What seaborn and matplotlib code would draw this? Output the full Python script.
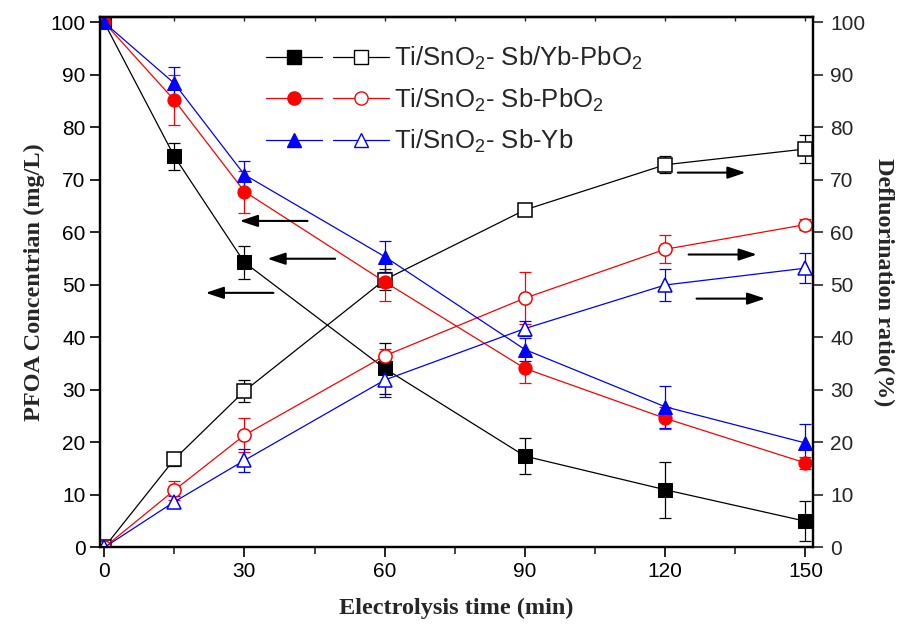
import numpy as np
import pandas as pd
import matplotlib
matplotlib.use("Agg")
import matplotlib.pyplot as plt
import seaborn as sns
from matplotlib.lines import Line2D
from matplotlib.legend_handler import HandlerTuple
from matplotlib.ticker import MultipleLocator

# ---------------- data ----------------
time = [0, 15, 30, 60, 90, 120, 150]

# PFOA concentration (mg/L), left axis
conc_ybpbo2 = [100, 74.5, 54.3, 34.1, 17.4, 11.0, 5.0]
conc_ybpbo2_err = [0, 2.6, 3.2, 4.8, 3.4, 5.3, 3.8]
conc_pbo2 = [100, 85.2, 67.8, 50.6, 34.1, 24.6, 16.1]
conc_pbo2_err = [0, 4.7, 4.0, 3.6, 2.8, 2.1, 1.2]
conc_yb = [100, 88.4, 71.0, 55.4, 37.7, 26.8, 19.9]
conc_yb_err = [0, 3.2, 2.7, 3.0, 2.2, 4.0, 3.7]

# Defluorination ratio (%), right axis
defl_ybpbo2 = [0, 16.8, 29.8, 51.0, 64.3, 72.9, 75.9]
defl_ybpbo2_err = [0, 1.2, 2.1, 2.0, 0.8, 1.6, 2.7]
defl_pbo2 = [0, 10.9, 21.4, 36.5, 47.5, 56.8, 61.5]
defl_pbo2_err = [0, 1.8, 3.3, 1.3, 5.0, 2.7, 1.0]
defl_yb = [0, 8.7, 16.6, 31.9, 41.7, 50.0, 53.2]
defl_yb_err = [0, 1.2, 2.2, 3.2, 1.5, 3.0, 2.8]

labels = ["Ti/SnO$_2$- Sb/Yb-PbO$_2$", "Ti/SnO$_2$- Sb-PbO$_2$", "Ti/SnO$_2$- Sb-Yb"]
colors = ["black", "red", "blue"]
markers = ["s", "o", "^"]

x_ticks = [0, 30, 60, 90, 120, 150]
y_ticks = list(range(0, 101, 10))

# ---------------- style ----------------
sns.set_theme(style="ticks")
plt.rcParams["font.family"] = ["Liberation Sans", "DejaVu Sans"]
plt.rcParams["mathtext.fontset"] = "custom"
plt.rcParams["mathtext.rm"] = "Liberation Sans"
plt.rcParams["mathtext.it"] = "Liberation Sans:italic"
plt.rcParams["mathtext.bf"] = "Liberation Sans:bold"

fig = plt.figure(figsize=(9.03, 6.27), dpi=100)
ax = fig.add_axes([0.1107, 0.1268, 0.7896, 0.8466])
ax2 = ax.twinx()

conc = [conc_ybpbo2, conc_pbo2, conc_yb]
conc_err = [conc_ybpbo2_err, conc_pbo2_err, conc_yb_err]
defl = [defl_ybpbo2, defl_pbo2, defl_yb]
defl_err = [defl_ybpbo2_err, defl_pbo2_err, defl_yb_err]

ms = 9.5
lw = 0.9
for i in range(3):
    df_c = pd.DataFrame({"time": time, "val": conc[i]})
    df_d = pd.DataFrame({"time": time, "val": defl[i]})
    ax.errorbar(time, conc[i], yerr=conc_err[i], fmt="none", ecolor=colors[i],
                elinewidth=0.9, capsize=4.5, capthick=0.9, zorder=2)
    ax.errorbar(time, defl[i], yerr=defl_err[i], fmt="none", ecolor=colors[i],
                elinewidth=0.9, capsize=4.5, capthick=0.9, zorder=2)
    sns.lineplot(data=df_c, x="time", y="val", ax=ax, color=colors[i], marker=markers[i],
                 markersize=ms, markeredgecolor=colors[i], markerfacecolor=colors[i],
                 linewidth=lw, zorder=3, legend=False)
    sns.lineplot(data=df_d, x="time", y="val", ax=ax, color=colors[i], marker=markers[i],
                 markersize=ms, markeredgecolor=colors[i], markerfacecolor="white",
                 markeredgewidth=1.1, linewidth=lw, zorder=3, legend=False)

ax.set_xlim(-0.9, 151.6)
ax.set_ylim(0, 101.1)
ax2.set_ylim(0, 101.1)
ax.set_xticks(x_ticks)
ax.xaxis.set_minor_locator(MultipleLocator(15))
ax.set_yticks(y_ticks)
ax2.set_yticks(y_ticks)

tick_font = 15
ax.tick_params(axis="both", which="major", labelsize=tick_font, direction="out",
               length=7.5, width=1.2, colors="black", pad=3)
ax.tick_params(axis="x", which="minor", direction="out", length=5, width=1.2)
ax2.tick_params(axis="y", which="major", labelsize=tick_font, direction="out",
                length=7.5, width=1.2, pad=5)

# small inward ticks on the top spine
top = ax.secondary_xaxis("top")
top.set_xticks(x_ticks)
top.xaxis.set_minor_locator(MultipleLocator(15))
top.tick_params(axis="x", which="both", direction="in", length=3, width=1.0,
                labeltop=False)

for a in (ax, ax2, top):
    for s in a.spines.values():
        s.set_linewidth(1.6)
        s.set_color("black")

label_font = dict(family=["Liberation Serif", "DejaVu Serif"], weight="bold", size=17.5)
ax.set_xlabel("Electrolysis time (min)", labelpad=12, **label_font)
ax.set_ylabel("PFOA Concentrian (mg/L)", labelpad=4, **label_font)
ax2.set_ylabel("Defluorination ratio(%)", rotation=270, labelpad=21, **label_font)

# arrows indicating which axis each set belongs to
arrows = [((29.0, 62.2), (43.5, 62.2)), ((34.9, 55.0), (49.4, 55.0)),
          ((21.7, 48.5), (36.2, 48.5)),
          ((137.2, 71.4), (122.7, 71.4)), ((139.6, 55.8), (125.0, 55.8)),
          ((141.4, 47.4), (126.7, 47.4))]
for head, tail in arrows:
    ax.annotate("", xy=head, xytext=tail,
                arrowprops=dict(arrowstyle="-|>,head_length=0.9,head_width=0.3",
                                color="black", lw=1.5, shrinkA=0, shrinkB=0))

handles = []
for i in range(3):
    h1 = Line2D([], [], color=colors[i], marker=markers[i], markersize=ms,
                markerfacecolor=colors[i], markeredgecolor=colors[i], linewidth=lw)
    h2 = Line2D([], [], color=colors[i], marker=markers[i], markersize=ms,
                markerfacecolor="white", markeredgecolor=colors[i], linewidth=lw)
    handles.append((h1, h2))
leg = ax.legend(handles, labels, handler_map={tuple: HandlerTuple(ndivide=None, pad=0.45)},
                loc="upper left", bbox_to_anchor=(0.2, 0.99), frameon=False,
                fontsize=18.5, handlelength=4.8, handletextpad=0.2, labelspacing=0.55,
                numpoints=1)

fig.savefig("out.png", dpi=100)
